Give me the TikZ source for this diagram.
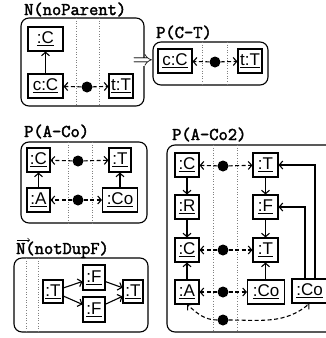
\documentclass[tikz,border=0pt]{standalone}
\usepackage{fontspec}
\setsansfont{Liberation Sans}
\newfontfamily\lblfont{Latin Modern Mono}[FakeBold=2.2]
\usetikzlibrary{arrows.meta}
\begin{document}
\begin{tikzpicture}[x=1pt,y=-1pt,
  cls/.style={draw,line width=1.1pt,font=\sffamily\fontsize{17}{18}\selectfont,inner sep=1pt,minimum height=24pt},
  ttl/.style={anchor=base west,font=\lblfont\fontsize{18}{20}\selectfont,inner sep=0pt},
  panel/.style={draw,line width=1.1pt,rounded corners=8pt},
  sep/.style={draw=gray,dotted,line width=0.6pt},
  dot/.style={circle,fill=black,inner sep=0pt,minimum size=11pt},
  lnk/.style={dash pattern=on 4pt off 2.5pt,line width=1.1pt,-{Straight Barb[length=3.5pt,width=8pt]}},
  sub/.style={line width=1.1pt,-{Straight Barb[length=3.5pt,width=8pt]}},
  vec/.style={line width=0.6pt,-{Straight Barb[length=2pt,width=4pt]}}
]
\useasboundingbox (0,0) rectangle (326,338);
% ---------- panel 1
\draw[panel] (21,18) rectangle (144,106);
\draw[sep] (76,18) -- (76,106);
\draw[sep] (99,18) -- (99,106);
\node[ttl] (t1) at (24,15) {N(noParent)};
\node[cls,minimum width=35pt] (p1C) at (45.5,39) {\underline{:C}};
\node[cls,minimum width=35pt] (p1c) at (45.5,86) {\underline{c:C}};
\node[cls,minimum width=24pt] (p1t) at (121,86) {\underline{t:T}};
\node[dot] (p1b) at (87,87) {};
\draw[sub] (p1c) -- (p1C);
\draw[lnk] (p1b) -- (p1c);
\draw[lnk] (p1b) -- (p1t);
\node[fill=white,inner sep=0.5pt,font=\fontsize{20}{20}\selectfont] (imp) at (143,62) {$\Rightarrow$};
% ---------- panel 2
\draw[panel] (153,42) rectangle (268,85);
\draw[sep] (202,42) -- (202,85);
\draw[sep] (227,42) -- (227,85);
\node[ttl] (t2) at (156,38) {P(C-T)};
\node[cls,minimum width=34pt] (p2c) at (175,61) {\underline{c:C}};
\node[cls,minimum width=24pt] (p2t) at (250,61) {\underline{t:T}};
\node[dot] (p2b) at (215,62) {};
\draw[lnk] (p2b) -- (p2c);
\draw[lnk] (p2b) -- (p2t);
% ---------- panel 3
\draw[panel] (21,142) rectangle (147,223);
\draw[sep] (68,142) -- (68,223);
\draw[sep] (92,142) -- (92,223);
\node[ttl] (t3) at (24,137) {P(A-Co)};
\node[cls,minimum width=23pt] (p3C) at (38.5,160) {\underline{:C}};
\node[cls,minimum width=22pt] (p3T) at (120,160) {\underline{:T}};
\node[cls,minimum width=23pt] (p3A) at (38.5,200) {\underline{:A}};
\node[cls,minimum width=35pt] (p3Co) at (120,200) {\underline{:Co}};
\node[dot] (p3b1) at (78,161) {};
\node[dot] (p3b2) at (78,200) {};
\draw[sub] (p3A) -- (p3C);
\draw[sub] (p3Co) -- (p3T);
\draw[lnk] (p3b1) -- (p3C);
\draw[lnk] (p3b1) -- (p3T);
\draw[lnk] (p3b2) -- (p3A);
\draw[lnk] (p3b2) -- (p3Co);
% ---------- panel 4
\draw[panel] (167,145) rectangle (345,332);
\draw[sep] (213,145) -- (213,332);
\draw[sep] (237,145) -- (237,332);
\node[ttl] (t4) at (172,140) {P(A-Co2)};
\node[cls,minimum width=24pt] (p4C1) at (187,165) {\underline{:C}};
\node[cls,minimum width=24pt] (p4R) at (187,207) {\underline{:R}};
\node[cls,minimum width=24pt] (p4C2) at (187,250) {\underline{:C}};
\node[cls,minimum width=24pt] (p4A) at (187,292) {\underline{:A}};
\node[cls,minimum width=25pt] (p4T1) at (265.5,165) {\underline{:T}};
\node[cls,minimum width=25pt] (p4F) at (265.5,207) {\underline{:F}};
\node[cls,minimum width=25pt] (p4T2) at (265.5,250) {\underline{:T}};
\node[cls,minimum width=37pt] (p4Co1) at (266,292) {\underline{:Co}};
\node[cls,minimum width=35pt] (p4Co2) at (309.5,291) {\underline{:Co}};
\node[dot] (p4b1) at (223,166) {};
\node[dot] (p4b2) at (223,250) {};
\node[dot] (p4b3) at (223,292) {};
\node[dot] (p4b4) at (223,320) {};
\draw[sub] (p4C1) -- (p4R);
\draw[sub] (p4R) -- (p4C2);
\draw[sub] (p4A) -- (p4C2);
\draw[sub] (p4T1) -- (p4F);
\draw[sub] (p4F) -- (p4T2);
\draw[sub] (p4Co1.north -| p4T2.south) -- (p4T2);
\draw[sub] ([xshift=-4.5pt]p4Co2.north) |- (p4F.east);
\draw[sub] ([xshift=5.5pt]p4Co2.north) |- (p4T1.east);
\draw[lnk] (p4b1) -- (p4C1);
\draw[lnk] (p4b1) -- (p4T1);
\draw[lnk] (p4b2) -- (p4C2);
\draw[lnk] (p4b2) -- (p4T2);
\draw[lnk] (p4b3) -- (p4A);
\draw[lnk] (p4b3) -- (p4Co1);
\draw[lnk] (p4b4) to[out=180,in=-40] (p4A.south);
\draw[lnk] (p4b4) to[out=0,in=-140] (p4Co2.south);
% ---------- panel 5
\draw[panel] (14,258) rectangle (148,332);
\draw[sep] (26,258) -- (26,332);
\draw[sep] (38,258) -- (38,332);
\node[ttl] (t5) at (16,254) {N(notDupF)};
\coordinate (v5a) at (17,240);
\coordinate (v5b) at (30,240);
\draw[vec] (v5a) -- (v5b);
\node[cls,minimum width=20pt,minimum height=23pt] (p5T1) at (53,291.5) {\underline{:T}};
\node[cls,minimum width=22pt,minimum height=25pt] (p5F1) at (94,277.5) {\underline{:F}};
\node[cls,minimum width=22pt,minimum height=25pt] (p5F2) at (94,309.5) {\underline{:F}};
\node[cls,minimum width=20pt,minimum height=23pt] (p5T2) at (133,291.5) {\underline{:T}};
\draw[sub] (p5T1) -- (p5F1);
\draw[sub] (p5T1) -- (p5F2);
\draw[sub] (p5F1) -- (p5T2);
\draw[sub] (p5F2) -- (p5T2);
\end{tikzpicture}
\end{document}
